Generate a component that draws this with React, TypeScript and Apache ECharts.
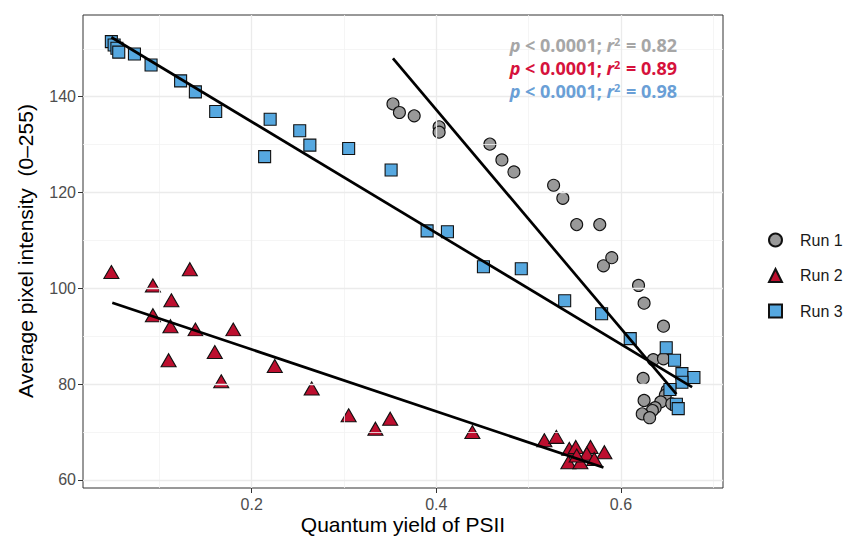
import React, { useEffect, useRef } from "react";
import * as echarts from "echarts";

const runNames = ["Run 1", "Run 2", "Run 3"];

const run1X = [0.353, 0.360, 0.376, 0.403, 0.403, 0.458, 0.471, 0.484, 0.527, 0.537, 0.552, 0.577, 0.581, 0.590, 0.619, 0.625, 0.646, 0.635, 0.646, 0.624, 0.650, 0.648, 0.625, 0.643, 0.637, 0.634, 0.623, 0.631, 0.655];
const run1Y = [138.5, 136.7, 136.0, 133.7, 132.6, 130.1, 126.8, 124.3, 121.5, 118.8, 113.3, 113.3, 104.7, 106.4, 100.6, 96.9, 92.1, 85.1, 85.3, 81.2, 78.7, 77.7, 76.6, 76.3, 75.1, 74.5, 73.8, 73.0, 75.9];

const run2X = [0.048, 0.133, 0.093, 0.113, 0.093, 0.112, 0.139, 0.180, 0.160, 0.110, 0.167, 0.225, 0.265, 0.305, 0.334, 0.350, 0.439, 0.517, 0.530, 0.544, 0.551, 0.567, 0.582, 0.543, 0.556, 0.563, 0.552, 0.571];
const run2Y = [103.4, 104.0, 100.6, 97.5, 94.4, 92.1, 91.4, 91.4, 86.7, 85.0, 80.6, 83.8, 79.1, 73.5, 70.7, 72.8, 70.0, 68.3, 69.0, 66.5, 66.9, 66.9, 65.8, 63.7, 63.7, 65.5, 65.1, 64.4];

const run3X = [0.048, 0.051, 0.054, 0.056, 0.073, 0.091, 0.123, 0.139, 0.161, 0.214, 0.220, 0.252, 0.263, 0.305, 0.351, 0.390, 0.412, 0.451, 0.492, 0.539, 0.579, 0.610, 0.649, 0.658, 0.666, 0.679, 0.666, 0.653, 0.660, 0.662];
const run3Y = [151.5, 150.8, 150.1, 149.3, 148.9, 146.6, 143.3, 141.0, 136.9, 127.5, 135.3, 132.9, 129.9, 129.2, 124.7, 112.0, 111.8, 104.5, 104.1, 97.4, 94.7, 89.5, 87.6, 85.0, 82.2, 81.4, 80.4, 78.9, 75.8, 74.9];

// fitted regression lines (end points)
const fit1X = [0.353, 0.660];
const fit1Y = [148.0, 77.9];
const fit2X = [0.049, 0.581];
const fit2Y = [97.0, 62.6];
const fit3X = [0.048, 0.677];
const fit3Y = [152.4, 79.4];

const xTicks = [0.2, 0.4, 0.6];
const yTicks = [60, 80, 100, 120, 140];
const xMinor = [0.1, 0.3, 0.5, 0.7];
const yMinor = [70, 90, 110, 130, 150];

const statLabels = ["0.82", "0.89", "0.98"];
const statColors = ["#a6a6a6", "#d6123c", "#6a9fd6"];

const zip = (xs: number[], ys: number[]) => xs.map((x, i) => [x, ys[i]]);

const FONT = "'Liberation Sans', Arial, sans-serif";

function statText(i: number, y: number) {
  const c = statColors[i];
  const base = { fill: c, fontFamily: "'Open Sans', sans-serif", fontWeight: "bold" as const, fontSize: 18 };
  return {
    type: "text",
    x: 677,
    y,
    z: 100,
    style: {
      text: `{i|p} < 0.0001; {i|r}{s|2} = ${statLabels[i]}`,
      align: "right",
      verticalAlign: "middle",
      ...base,
      rich: {
        i: { ...base, fontStyle: "italic" },
        s: { ...base, fontSize: 11, verticalAlign: "top", padding: [0, 1, 0, 0] },
      },
    },
  };
}

export default function App() {
  const ref = useRef<HTMLDivElement>(null);
  useEffect(() => {
    const chart = echarts.init(ref.current!, null, { renderer: "svg" });
    const major = "#ebebeb";
    const minor = "#f3f3f3";
    const gridLines = [
      ...xMinor.map((v) => ({ xAxis: v, lineStyle: { color: minor, width: 0.8, type: "solid" } })),
      ...yMinor.map((v) => ({ yAxis: v, lineStyle: { color: minor, width: 0.8, type: "solid" } })),
      ...xTicks.map((v) => ({ xAxis: v, lineStyle: { color: major, width: 1.3, type: "solid" } })),
      ...yTicks.map((v) => ({ yAxis: v, lineStyle: { color: major, width: 1.3, type: "solid" } })),
    ];
    const pointStyle = (color: string) => ({ color, borderColor: "#111", borderWidth: 1.1, opacity: 1 });
    const fitSeries = (name: string, xs: number[], ys: number[]) => ({
      name,
      type: "line",
      data: zip(xs, ys),
      showSymbol: false,
      symbol: "none",
      lineStyle: { color: "#000", width: 2.7 },
      z: 10,
      silent: true,
    });
    chart.setOption({
      animation: false,
      backgroundColor: "#fff",
      grid: { left: 83, top: 15, width: 640, height: 473, show: true, borderColor: "#333333", borderWidth: 1, backgroundColor: "transparent" },
      xAxis: {
        type: "value",
        min: 0.01728,
        max: 0.71048,
        splitLine: { show: false },
        axisLine: { show: false },
        axisTick: { show: true, customValues: xTicks, length: 5, lineStyle: { color: "#333" } },
        axisLabel: { customValues: xTicks, color: "#4d4d4d", fontSize: 16, fontFamily: FONT, margin: 8, formatter: (v: number) => String(v) },
      },
      yAxis: {
        type: "value",
        min: 58.33,
        max: 157.05,
        splitLine: { show: false },
        axisLine: { show: false },
        axisTick: { show: true, customValues: yTicks, length: 5, lineStyle: { color: "#333" } },
        axisLabel: { customValues: yTicks, color: "#4d4d4d", fontSize: 16, fontFamily: FONT, margin: 7 },
      },
      legend: {
        data: runNames,
        orient: "vertical",
        left: 763,
        top: 227,
        itemWidth: 13,
        itemHeight: 13,
        itemGap: 19.5,
        textStyle: { fontSize: 16, color: "#1a1a1a", fontFamily: FONT, padding: [0, 0, 0, 13] },
      },
      graphic: [
        statText(0, 45),
        statText(1, 68),
        statText(2, 91),
        {
          type: "text",
          x: 403,
          y: 524,
          style: { text: "Quantum yield of PSII", align: "center", verticalAlign: "middle", fontSize: 21, fontFamily: FONT, fill: "#000" },
        },
        {
          type: "text",
          x: 25,
          y: 251,
          rotation: Math.PI / 2,
          style: { text: "Average pixel intensity  (0\u2013255)", align: "center", verticalAlign: "middle", fontSize: 21, fontFamily: FONT, fill: "#000" },
        },
      ],
      series: [
        {
          name: "grid",
          type: "line",
          data: [],
          z: 0,
          silent: true,
          markLine: { silent: true, symbol: ["none", "none"], label: { show: false }, animation: false, data: gridLines },
        },
        { name: runNames[0], type: "scatter", data: zip(run1X, run1Y), symbol: "circle", symbolSize: 12, itemStyle: pointStyle("#999999"), z: 3 },
        { name: runNames[1], type: "scatter", data: zip(run2X, run2Y), symbol: "triangle", symbolSize: [15, 13], itemStyle: pointStyle("#bd0f2f"), z: 4 },
        { name: runNames[2], type: "scatter", data: zip(run3X, run3Y), symbol: "rect", symbolSize: 12, itemStyle: pointStyle("#56a8e0"), z: 5 },
        fitSeries("fit1", fit1X, fit1Y),
        fitSeries("fit2", fit2X, fit2Y),
        fitSeries("fit3", fit3X, fit3Y),
      ],
    });
    return () => chart.dispose();
  }, []);
  return <div ref={ref} style={{ position: "fixed", left: 0, top: 0, width: 846, height: 541, background: "#fff" }} />;
}
